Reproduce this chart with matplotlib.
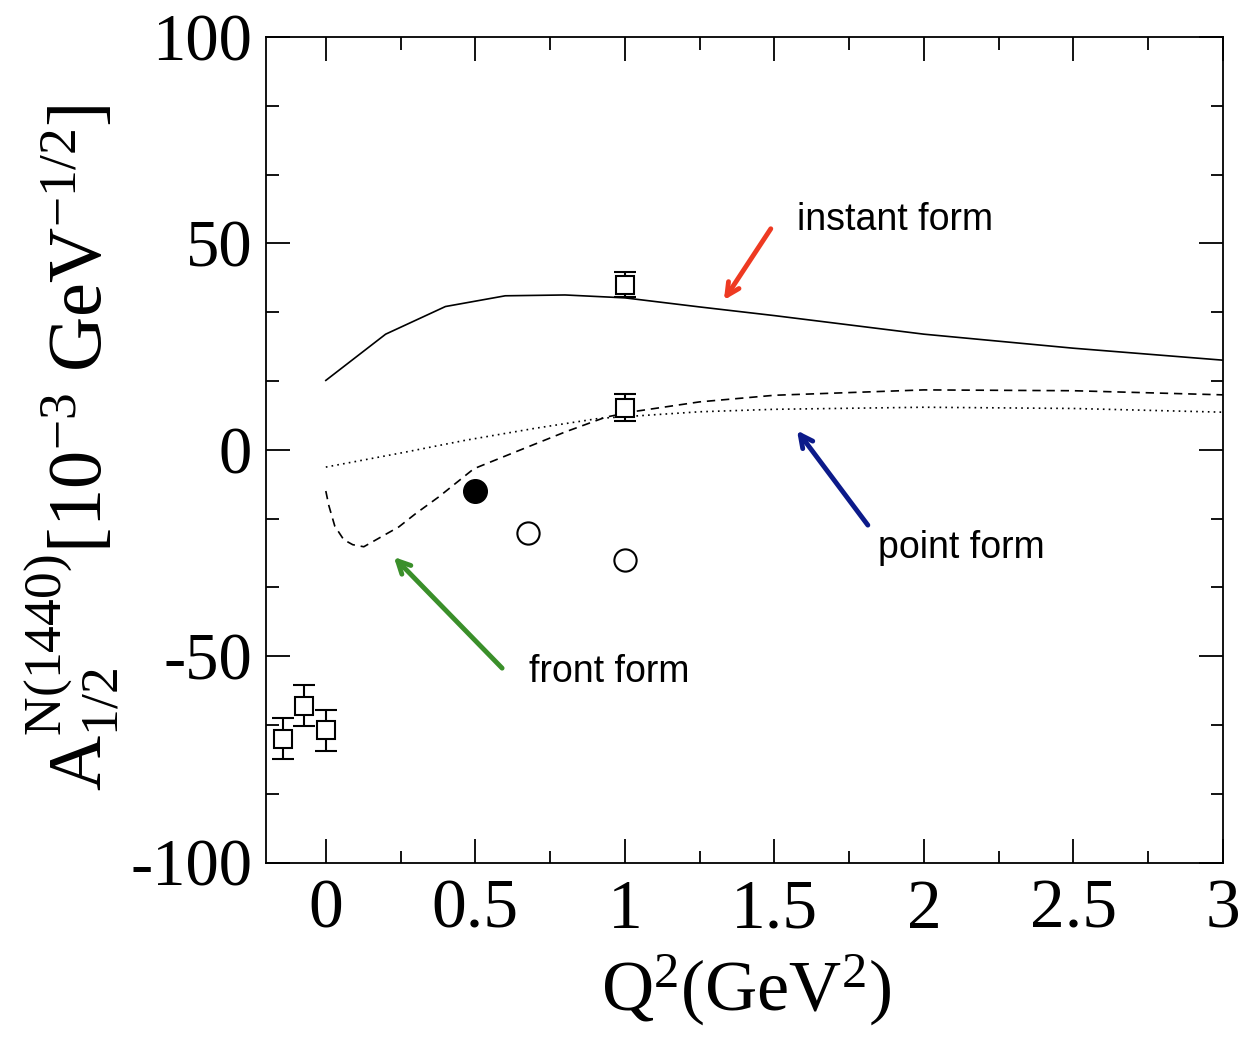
import matplotlib
matplotlib.use("Agg")
import matplotlib.pyplot as plt
from matplotlib.ticker import MultipleLocator, AutoMinorLocator

plt.rcParams['font.family'] = 'Liberation Serif'
plt.rcParams['mathtext.fontset'] = 'custom'
plt.rcParams['mathtext.rm'] = 'Liberation Serif'
plt.rcParams['mathtext.it'] = 'Liberation Serif'
plt.rcParams['mathtext.default'] = 'rm'

# theory curves
q2_instant = [0.0, 0.2, 0.4, 0.6, 0.8, 1.0, 1.25, 1.5, 2.0, 2.5, 3.0]
a_instant = [16.8, 28.0, 34.7, 37.3, 37.5, 36.8, 34.6, 32.5, 28.0, 24.6, 21.7]

q2_front = [0.0, 0.01, 0.03, 0.06, 0.09, 0.127, 0.2, 0.244, 0.3, 0.378, 0.495,
            0.635, 0.8, 0.936, 1.025, 1.25, 1.5, 2.0, 2.5, 3.0]
a_front = [-10.0, -13.5, -18.5, -21.8, -23.0, -23.5, -20.5, -18.7, -15.5, -11.4,
           -4.6, -0.5, 4.3, 7.9, 9.2, 11.6, 13.2, 14.5, 14.3, 13.3]

q2_point = [0.0, 0.25, 0.467, 0.7, 0.914, 1.25, 1.5, 2.0, 2.5, 3.0]
a_point = [-4.2, -0.8, 2.3, 5.2, 7.6, 9.2, 9.8, 10.3, 10.0, 9.1]

# data points
sq_x = [-0.144, -0.072, 0.0, 1.0, 1.0]
sq_y = [-70.0, -62.0, -68.0, 40.0, 10.2]
sq_err = [5.0, 5.0, 5.0, 3.0, 3.2]

full_x = [0.5]
full_y = [-10.0]

open_x = [0.677, 1.0]
open_y = [-20.1, -26.8]

fig = plt.figure(figsize=(12.42, 10.43), dpi=100)
ax = fig.add_axes([266/1242, 1 - 862.5/1043, (1223-266)/1242, (862.5-37)/1043])

ax.plot(q2_instant, a_instant, color='black', lw=1.2)
ax.plot(q2_front, a_front, color='black', lw=1.2, linestyle=(0, (5, 3.5)))
ax.plot(q2_point, a_point, color='black', lw=1.2, linestyle=(0, (1, 2.5)))

ax.errorbar(sq_x, sq_y, yerr=sq_err, fmt='s', mfc='white', mec='black', mew=1.5,
            ms=13.5, ecolor='black', elinewidth=1.5, capsize=8, capthick=1.5, zorder=3)
ax.plot(full_x, full_y, 'o', color='black', ms=17, zorder=3)
ax.plot(open_x, open_y, 'o', mfc='white', mec='black', mew=1.5, ms=16, zorder=3)

ax.set_xlim(-0.2, 3.0)
ax.set_ylim(-100, 100)
ax.xaxis.set_major_locator(MultipleLocator(0.5))
ax.xaxis.set_minor_locator(MultipleLocator(0.25))
ax.yaxis.set_major_locator(MultipleLocator(50))
ax.yaxis.set_minor_locator(AutoMinorLocator(3))
ax.tick_params(which='both', direction='in', top=True, right=True, width=1.3)
ax.tick_params(which='major', length=17)
ax.tick_params(which='minor', length=9)
ax.set_xticklabels([])
for s in ax.spines.values():
    s.set_linewidth(1.3)

xt = [0, 0.5, 1, 1.5, 2, 2.5, 3]
for v in xt:
    ax.text(v, -104, f'{v:g}', ha='center', va='top', fontsize=50,
            transform=ax.transData)
ax.set_yticks([-100, -50, 0, 50, 100])
ax.set_yticklabels(['-100', '-50', '0', '50', '100'], fontsize=48)
ax.tick_params(axis='y', pad=10)

fig.text(746/1242, 1 - 990/1043, r'$Q^{2}(GeV^{2})$', ha='center', va='center', fontsize=52)
fig.text(72/1242, 1 - 448/1043, r'$A^{N(1440)}_{1/2}[10^{-3}\ GeV^{-1/2}]$',
         ha='center', va='center', rotation=90, fontsize=55)

arrow_kw = dict(arrowstyle='->, head_length=0.9, head_width=0.45', lw=3.5)
ax.annotate('', xy=(1.326, 35.7), xytext=(1.493, 54.1),
            arrowprops=dict(color='#ee3a22', **arrow_kw))
ax.annotate('', xy=(1.570, 5.2), xytext=(1.818, -18.8),
            arrowprops=dict(color='#0c1a8a', **arrow_kw))
ax.annotate('', xy=(0.221, -25.5), xytext=(0.596, -53.4),
            arrowprops=dict(color='#3a8f2a', **arrow_kw))

ax.text(1.577, 55.7, 'instant form', fontsize=27, family='Liberation Sans', va='center')
ax.text(1.848, -23.8, 'point form', fontsize=27, family='Liberation Sans', va='center')
ax.text(0.680, -53.8, 'front form', fontsize=27, family='Liberation Sans', va='center')

fig.savefig('out.png', dpi=100)
